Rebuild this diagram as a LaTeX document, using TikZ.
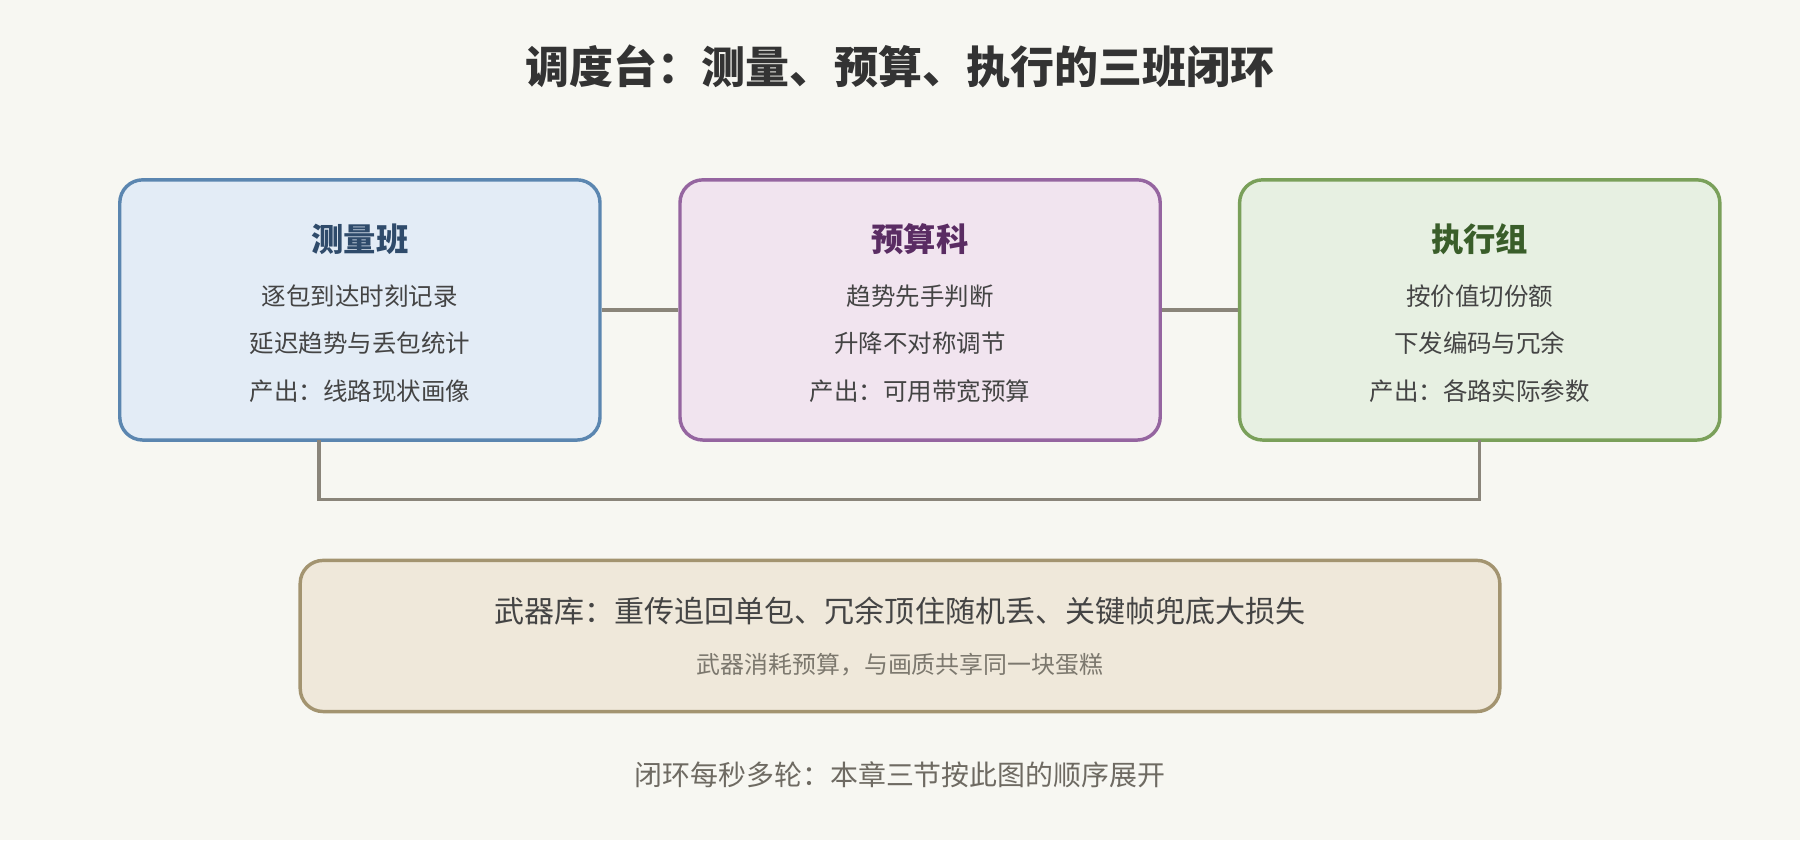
\documentclass[tikz,border=0pt]{standalone}
\usepackage{fontspec}
\setmainfont{Noto Sans CJK SC}
\usetikzlibrary{positioning}
\definecolor{bgcol}{HTML}{F7F7F2}
\definecolor{txtcol}{HTML}{444444}
\definecolor{linkcol}{HTML}{8A857A}
\definecolor{measfill}{HTML}{E3ECF6}
\definecolor{measline}{HTML}{5B86B0}
\definecolor{meastxt}{HTML}{2F4B6B}
\definecolor{budgfill}{HTML}{F1E4EF}
\definecolor{budgline}{HTML}{9565A0}
\definecolor{budgtxt}{HTML}{5A2C63}
\definecolor{execfill}{HTML}{E7F0E2}
\definecolor{execline}{HTML}{7AA05A}
\definecolor{exectxt}{HTML}{3A5E2A}
\definecolor{armfill}{HTML}{EFE8DA}
\definecolor{armline}{HTML}{A39470}
\tikzset{
  team/.style={draw, rounded corners=12pt, line width=1.8pt, minimum width=251pt, minimum height=136pt},
  head/.style={font=\fontsize{16.9}{20}\selectfont\bfseries},
  item/.style={font=\fontsize{12.8}{15}\selectfont, text=txtcol},
  link/.style={draw=linkcol, line width=1.8pt}
}
\begin{document}
\begin{tikzpicture}[x=0.6pt, y=-0.6pt]
        \fill[bgcol] (0,0) rectangle (1568,732);
        \useasboundingbox (0,0) rectangle (1568,732);

        \node[font=\fontsize{23}{27}\selectfont\bfseries, text=black!80] (title) at (784,58) {调度台：测量、预算、执行的三班闭环};

        % three teams
        \node[team, draw=measline, fill=measfill] (M) at (313.5,270) {};
        \node[team, draw=budgline, fill=budgfill] (B) at (801.5,270) {};
        \node[team, draw=execline, fill=execfill] (E) at (1289,270) {};

        \node[head, text=meastxt] (Mh) at (313.5,208) {测量班};
        \node[item] (M1) at (313.5,258) {逐包到达时刻记录};
        \node[item] (M2) at (313.5,299) {延迟趋势与丢包统计};
        \node[item] (M3) at (313.5,341) {产出：线路现状画像};

        \node[head, text=budgtxt] (Bh) at (801.5,208) {预算科};
        \node[item] (B1) at (801.5,258) {趋势先手判断};
        \node[item] (B2) at (801.5,299) {升降不对称调节};
        \node[item] (B3) at (801.5,341) {产出：可用带宽预算};

        \node[head, text=exectxt] (Eh) at (1289,208) {执行组};
        \node[item] (E1) at (1289,258) {按价值切份额};
        \node[item] (E2) at (1289,299) {下发编码与冗余};
        \node[item] (E3) at (1289,341) {产出：各路实际参数};

        \draw[link] (M) -- (B);
        \draw[link] (B) -- (E);

        % feedback bracket
        \coordinate (Mb) at (278,383);
        \coordinate (Eb) at (1289,383);
        \draw[link] (Mb) -- (278,435) -| (Eb);

        % arsenal
        \node[draw=armline, fill=armfill, rounded corners=12pt, line width=1.8pt, minimum width=627pt, minimum height=79pt] (A) at (784,554) {};
        \node[font=\fontsize{15.7}{18}\selectfont, text=txtcol] (A1) at (784,532) {武器库：重传追回单包、冗余顶住随机丢、关键帧兜底大损失};
        \node[font=\fontsize{12.5}{15}\selectfont, text=linkcol!90!black] (A2) at (784,579) {武器消耗预算，与画质共享同一块蛋糕};

        \node[font=\fontsize{14.6}{17}\selectfont, text=linkcol!80!black] (foot) at (784,675) {闭环每秒多轮：本章三节按此图的顺序展开};
\end{tikzpicture}
\end{document}
